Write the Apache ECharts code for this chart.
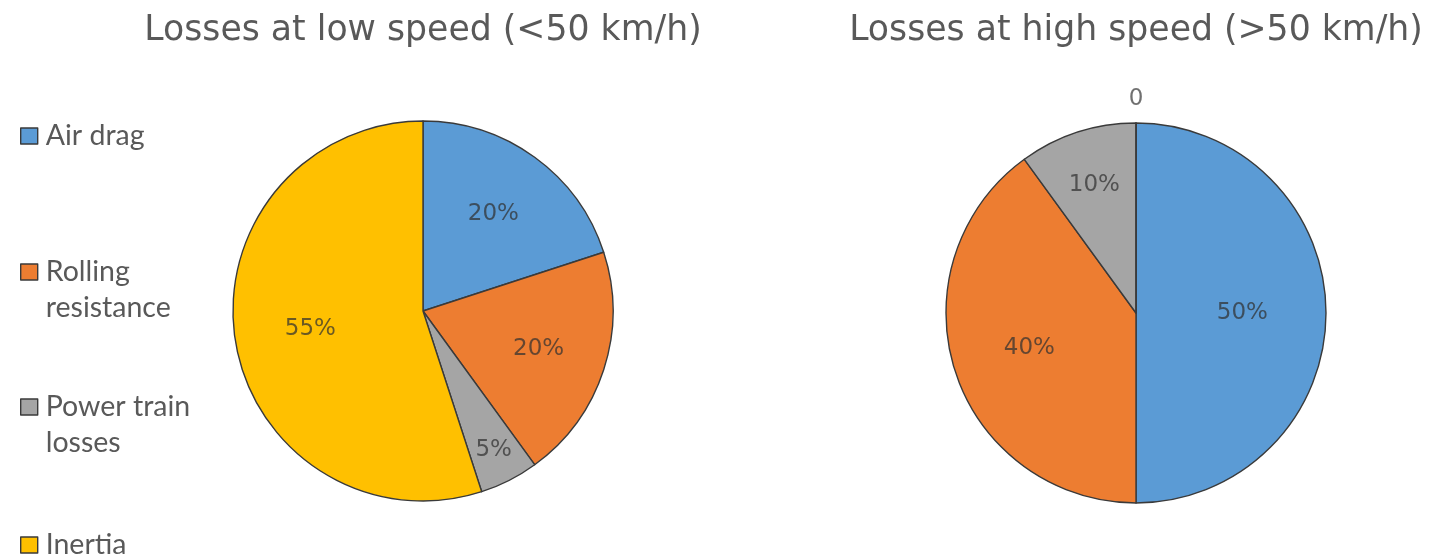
<!DOCTYPE html>
<html>
<head>
<meta charset="utf-8">
<title>Vehicle energy losses by speed</title>
<script src="https://cdn.jsdelivr.net/npm/echarts@6/dist/echarts.min.js"></script>
<style>
  html, body { margin: 0; padding: 0; background: #ffffff; }
  #chart { width: 1432px; height: 557px; }
</style>
</head>
<body>
<div id="chart"></div>
<script>
// Loss categories and their shares (%) at low and high speed
const categories = ['Air drag', 'Rolling\nresistance', 'Power train\nlosses', 'Inertia'];
const lowSpeedShare = [20, 20, 5, 55];
const highSpeedShare = [50, 40, 10, 0];
const chartTitles = ['Losses at low speed (<50 km/h)', 'Losses at high speed (>50 km/h)'];

// Office palette
const colors = ['#5B9BD5', '#ED7D31', '#A5A5A5', '#FFC000'];

// Layout
const pieCenters = [[423, 311], [1136, 313]];
const pieRadius = 190;
// Radial position of each inside label, as a fraction of the radius
const labelRadiusFrac = [
  [0.63, 0.64, 0.82, 0.60],
  [0.56, 0.59, 0.71, 0.60]
];
// Vertical centre of the first text line of each legend entry
const legendRowCenters = [136, 272, 407, 545];
const legendLineHeight = 36;

const chart = echarts.init(document.getElementById('chart'), null, { renderer: 'canvas' });

function pieSeries(idx, values) {
  return {
    type: 'pie',
    name: chartTitles[idx],
    center: pieCenters[idx],
    radius: pieRadius,
    startAngle: 90,
    clockwise: true,
    avoidLabelOverlap: false,
    stillShowZeroSum: true,
    animation: false,
    silent: true,
    itemStyle: { borderColor: '#3a3a3a', borderWidth: 1.4 },
    label: {
      show: true,
      position: 'inside',
      fontFamily: 'DejaVu Sans',
      fontSize: 23,
      color: 'rgba(48,48,48,0.72)',
      formatter: p => p.value === 0 ? '0' : p.value + '%'
    },
    labelLine: { show: false, length: 24, length2: 0 },
    labelLayout: params => {
      const item = values[params.dataIndex];
      if (item === 0) return { align: 'center' };
      const [cx, cy] = pieCenters[idx];
      const r = params.labelRect;
      const lx = r.x + r.width / 2, ly = r.y + r.height / 2;
      const dx = lx - cx, dy = ly - cy;
      const d = Math.sqrt(dx * dx + dy * dy) || 1;
      const k = labelRadiusFrac[idx][params.dataIndex] * pieRadius / d;
      return { x: cx + dx * k, y: cy + dy * k };
    },
    data: categories.map((name, i) => {
      const d = { name, value: values[i], itemStyle: { color: colors[i] } };
      if (values[i] === 0) {
        d.label = {
          position: 'outside',
          color: '#707070',
          fontSize: 23,
          distanceToLabelLine: 0
        };
      }
      return d;
    })
  };
}

// One legend block per category so each row can sit at its own height.
// Multi-line names get a blank leading line so the swatch lines up with the first line.
const legends = categories.map((name, i) => {
  const lines = name.split('\n').length;
  const shown = lines > 1 ? '\n' + name : name;
  const blockH = (lines > 1 ? lines + 1 : 1) * legendLineHeight;
  return {
    data: [name],
    formatter: () => shown,
    orient: 'vertical',
    left: 20,
    top: legendRowCenters[i] - blockH / 2,
    padding: 0,
    itemWidth: 17,
    itemHeight: 16,
    itemGap: 0,
    icon: 'rect',
    selectedMode: false,
    itemStyle: { borderColor: '#3a3a3a', borderWidth: 1.4 },
    textStyle: {
      fontFamily: 'Lato',
      fontSize: 28.5,
      color: '#595959',
      lineHeight: legendLineHeight,
      padding: [0, 0, 0, 3]
    }
  };
});

chart.setOption({
  backgroundColor: '#ffffff',
  animation: false,
  title: chartTitles.map((text, i) => ({
    text,
    left: pieCenters[i][0],
    top: 13,
    padding: 0,
    textAlign: 'center',
    textStyle: {
      fontFamily: 'DejaVu Sans',
      fontSize: 34.7,
      fontWeight: 'normal',
      color: '#595959'
    }
  })),
  legend: legends,
  series: [pieSeries(0, lowSpeedShare), pieSeries(1, highSpeedShare)]
});
</script>
</body>
</html>
